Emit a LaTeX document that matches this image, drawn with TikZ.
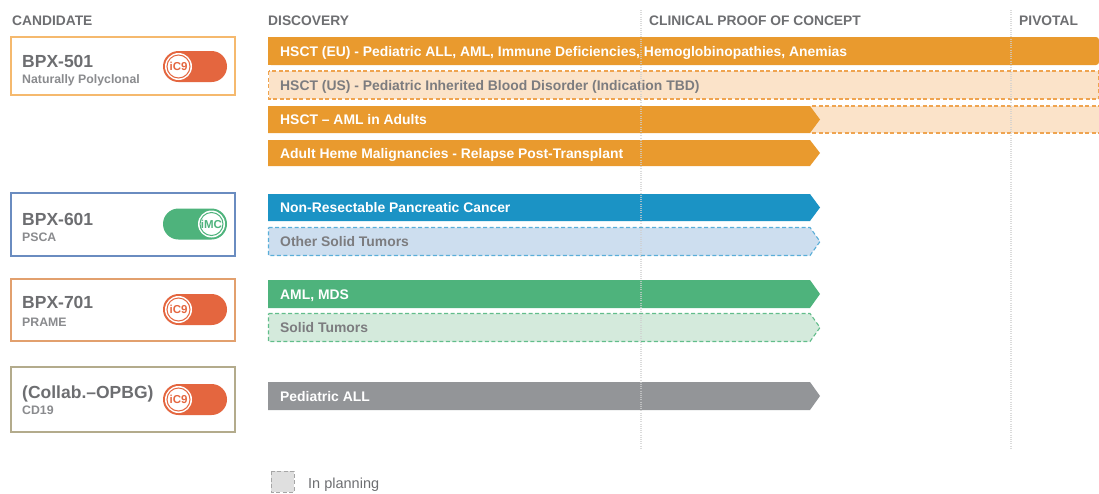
\documentclass[tikz,border=0pt]{standalone}
\usepackage{fontspec}
\setmainfont{Liberation Sans}
\definecolor{txtgray}{HTML}{6D6E71}
\definecolor{orbar}{HTML}{E99A2E}
\definecolor{peach}{HTML}{FBE3C9}
\definecolor{peachline}{HTML}{EFA450}
\definecolor{bluebar}{HTML}{1B93C5}
\definecolor{lblue}{HTML}{CDDEEF}
\definecolor{lblueline}{HTML}{5AAED8}
\definecolor{greenbar}{HTML}{4EB37C}
\definecolor{lgreen}{HTML}{D4EADC}
\definecolor{lgreenline}{HTML}{62BD8B}
\definecolor{graybar}{HTML}{939598}
\definecolor{togred}{HTML}{E4663F}
\definecolor{dotline}{HTML}{CFCFCF}
\definecolor{b501}{HTML}{F5B96E}
\definecolor{b601}{HTML}{6A8CC0}
\definecolor{b701}{HTML}{E2A06E}
\definecolor{bcol}{HTML}{B3AB8C}
\tikzset{
  x=1pt,y=-1pt,
  header/.style={anchor=west,font=\bfseries\fontsize{13.8}{15}\selectfont,text=txtgray,inner sep=0pt,text height=10pt,text depth=0pt},
  candbox/.style={draw,line width=1.2pt,fill=white},
  ctitle/.style={anchor=west,font=\bfseries\fontsize{17.5}{19}\selectfont,text=txtgray,inner sep=0pt,text height=12.5pt,text depth=0pt},
  csub/.style={anchor=west,font=\bfseries\fontsize{12.3}{13}\selectfont,text=txtgray!80,inner sep=0pt,text height=8.8pt,text depth=0pt},
  bartext/.style={anchor=west,font=\bfseries\fontsize{13.9}{15}\selectfont,text=white,inner sep=0pt,text height=10pt,text depth=0pt},
  plantext/.style={bartext,text=txtgray!90},
  plan/.style={line width=1.1pt,dash pattern=on 4pt off 2.5pt},
  vline/.style={draw=dotline,line width=2pt,dash pattern=on 1pt off 1.2pt,draw opacity=0.75},
  togtext/.style={font=\bfseries\fontsize{11.5}{12}\selectfont,inner sep=0pt},
}
\newcommand{\togglered}[2]{% y, name
  \fill[togred,rounded corners=15.5pt] (163,{#1-15.5}) rectangle (227,{#1+15.5});
  \fill[white] (178.5,#1) circle[radius=13.5pt];
  \draw[togred,line width=1pt] (178.5,#1) circle[radius=11.5pt];
  \node[togtext,text=togred] (#2) at (178.5,#1) {iC9};
}
\newcommand{\arrowbar}[5]{% y1, y2, color, text, name
  \fill[#3] (268,#1) -- (810,#1) -- (820,{(#1+#2)/2}) -- (810,#2) -- (268,#2) -- cycle;
  \node[bartext] (#5) at (280,{(#1+#2)/2}) {#4};
}
\begin{document}
\begin{tikzpicture}
\useasboundingbox (0,0) rectangle (1099,493);
% headers
\node[header] (hcand) at (12,20) {CANDIDATE};
\node[header] (hdisc) at (268,20) {DISCOVERY};
\node[header] (hclin) at (649,20) {CLINICAL PROOF OF CONCEPT};
\node[header] (hpiv) at (1019,20) {PIVOTAL};
% candidate boxes
\draw[candbox,draw=b501] (11,37) rectangle (235,95);
\node[ctitle] (t501) at (22,61) {BPX-501};
\node[csub] (s501) at (22,79) {Naturally Polyclonal};
\togglered{66.5}{tog501}
\draw[candbox,draw=b601] (11,193) rectangle (235,256);
\node[ctitle] (t601) at (22,219) {BPX-601};
\node[csub] (s601) at (22,237) {PSCA};
\fill[greenbar,rounded corners=15.5pt] (163,208.5) rectangle (227,239.5);
\fill[white] (211.5,224) circle[radius=13.5pt];
\draw[greenbar,line width=1pt] (211.5,224) circle[radius=11.5pt];
\node[togtext,text=greenbar] (tog601) at (211.5,224) {iMC};
\draw[candbox,draw=b701] (11,279) rectangle (235,341);
\node[ctitle] (t701) at (22,302) {BPX-701};
\node[csub] (s701) at (22,322) {PRAME};
\togglered{309.5}{tog701}
\draw[candbox,draw=bcol] (11,367) rectangle (235,432);
\node[ctitle] (tcol) at (22,392) {(Collab.–OPBG)};
\node[csub] (scol) at (22,410) {CD19};
\togglered{399.5}{togcol}
% row 1
\fill[orbar,rounded corners=3pt] (268,37) -- (1099,37) -- (1099,65) -- (268,65) -- cycle;
\fill[orbar] (268,37) rectangle (280,65);
\node[bartext] (r1) at (280,51) {HSCT (EU) - Pediatric ALL, AML, Immune Deficiencies, Hemoglobinopathies, Anemias};
% row 2
\draw[plan,draw=peachline,fill=peach] (268.5,71) rectangle (1099,99);
\node[plantext] (r2) at (280,85) {HSCT (US) - Pediatric Inherited Blood Disorder (Indication TBD)};
% row 3
\fill[peach] (805,106) rectangle (1099,133);
\draw[plan,draw=peachline] (812,106) -- (1099,106);
\draw[plan,draw=peachline] (812,133) -- (1099,133);
\arrowbar{106}{133}{orbar}{HSCT – AML in Adults}{r3}
% row 4
\arrowbar{140}{166}{orbar}{Adult Heme Malignancies - Relapse Post-Transplant}{r4}
% row 5
\arrowbar{194}{221}{bluebar}{Non-Resectable Pancreatic Cancer}{r5}
% row 6
\draw[plan,draw=lblueline,fill=lblue] (268.5,227.5) -- (810,227.5) -- (820,241.5) -- (810,255.5) -- (268.5,255.5) -- cycle;
\node[plantext] (r6) at (280,241.5) {Other Solid Tumors};
% row 7
\arrowbar{280}{308}{greenbar}{AML, MDS}{r7}
% row 8
\draw[plan,draw=lgreenline,fill=lgreen] (268.5,313.5) -- (810,313.5) -- (820,327.5) -- (810,341.5) -- (268.5,341.5) -- cycle;
\node[plantext] (r8) at (280,327.5) {Solid Tumors};
% row 9
\arrowbar{382}{410}{graybar}{Pediatric ALL}{r9}
% phase lines (over the bars, semi-transparent)
\coordinate (l1t) at (641,10); \coordinate (l1b) at (641,450);
\coordinate (l2t) at (1011,10); \coordinate (l2b) at (1011,450);
\draw[vline] (l1t) -- (l1b);
\draw[vline] (l2t) -- (l2b);
% legend
\draw[plan,draw=gray!70,fill=gray!25,line width=1pt] (271,471) rectangle (294,492);
\node[anchor=west,font=\fontsize{14.5}{16}\selectfont,text=txtgray,inner sep=0pt,text height=10.5pt,text depth=0pt] (leg) at (308,483) {In planning};
\end{tikzpicture}
\end{document}
